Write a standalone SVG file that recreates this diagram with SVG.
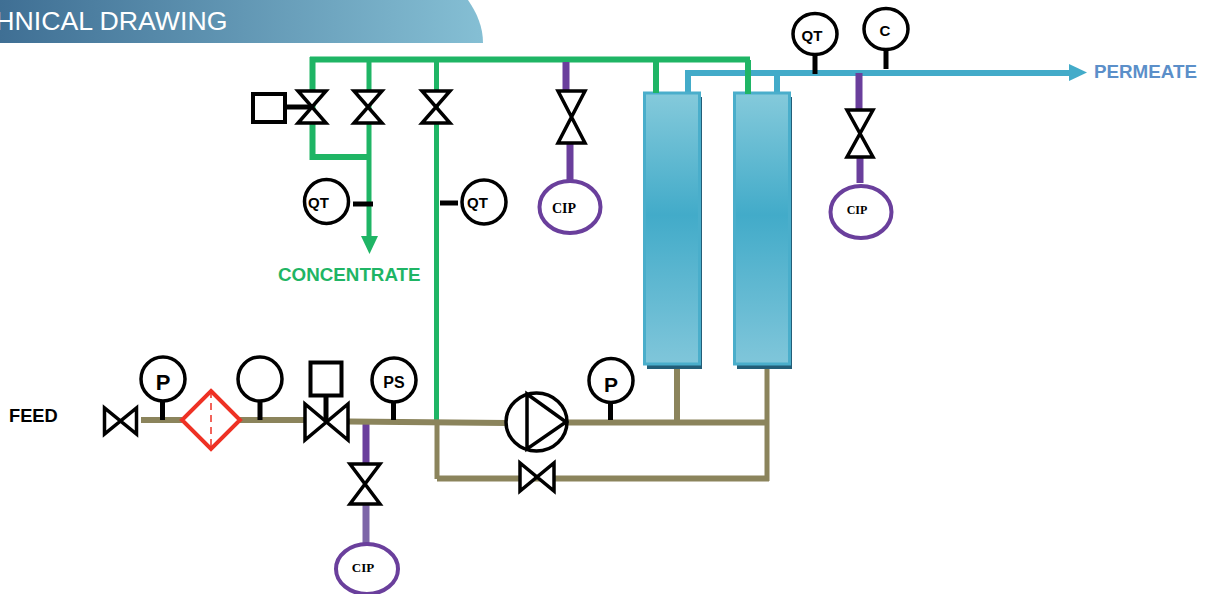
<svg xmlns="http://www.w3.org/2000/svg" width="1205" height="594" viewBox="0 0 1205 594">
<style>
.inst{fill:#fff;stroke:#000;stroke-width:3.500}
.stem{fill:none;stroke:#000;stroke-width:5}
.valve{fill:#fff;stroke:#000;stroke-width:3.500;stroke-linejoin:miter}
.act{fill:#fff;stroke:#000;stroke-width:4}
.cip{fill:#fff;stroke:#6a3f9c;stroke-width:4}
.sans{font-family:"Liberation Sans",Arial,sans-serif;font-weight:700;fill:#000}
.serif{font-family:"Liberation Serif","Times New Roman",serif;font-weight:700;fill:#000;text-anchor:middle}
.green{fill:none;stroke:#1fb565;stroke-width:5}
.blue{fill:none;stroke:#43abc9;stroke-width:6}
.purple{fill:none;stroke:#6a3f9c;stroke-width:7}
.tan{fill:none;stroke:#8b845c;stroke-width:6}
.col{fill:url(#colGrad);stroke:#4aaecb;stroke-width:3}
.shadow{fill:#235e78}
.mid{text-anchor:middle}
</style>
<defs>
<linearGradient id="headGrad" x1="0" y1="0" x2="1" y2="0"><stop offset="0" stop-color="#3f6f94"/><stop offset="1" stop-color="#85bfd4"/></linearGradient>
<linearGradient id="colGrad" x1="0" y1="0" x2="0" y2="1"><stop offset="0" stop-color="#85cadb"/><stop offset="0.45" stop-color="#42abc9"/><stop offset="1" stop-color="#80c6da"/></linearGradient>
</defs>
<g id="header">
<path d="M0 0H468C477 13 483 27 483 43H0Z" fill="url(#headGrad)"/>
<text x="227.500" y="30" text-anchor="end" font-family="Liberation Sans,Arial,sans-serif" font-size="26.700" fill="#fff">HNICAL DRAWING</text>
</g>
<g id="connectors">
<path class="green" style="stroke-width:6" d="M310 59.500H750"/>
<path class="green" style="stroke-width:6" d="M312.500 57V157H369"/>
<path class="green" d="M369 62V238"/>
<path class="green" d="M436.500 62V421"/>
<path class="green" style="stroke-width:6" d="M656 60V93M748 60V94"/>
<polygon points="361,236 378,236 369.500,254" fill="#1fb565"/>
<path class="blue" d="M688 92V73H1072M777 73V92"/>
<polygon points="1069,64 1087,72.500 1069,81" fill="#43abc9"/>
<path class="purple" d="M566 62V90M570 144V182M859 73V109M860 158V183M366 424V464"/>
<path class="purple" style="stroke:#7d66a8" d="M366 505V543"/>
<path class="tan" d="M141 420H182M240 420H305"/>
<path class="tan" d="M349 421.500L507 423"/>
<path class="tan" d="M568 422.500H767M677 367V422"/>
<path class="tan" style="stroke-width:5" d="M437 422V479M767 366V481"/>
<path class="tan" d="M437 478.500H769"/>
</g>
<g id="col1"><rect class="shadow" x="647" y="97" width="55" height="272"/><rect class="col" x="644.500" y="93" width="55" height="271"/></g>
<g id="col2"><rect class="shadow" x="737" y="97" width="55" height="272"/><rect class="col" x="734.500" y="93" width="55" height="271"/></g>
<g id="green-joins"><path class="green" style="stroke-width:6" d="M656 60V93M748 60V94"/></g>
<g id="valve-act-top"><rect class="act" x="253" y="94" width="32" height="28"/><path class="stem" d="M286 107H312"/><path class="valve" d="M298 91H326L298 123H326Z"/></g>
<g id="valve-2"><path class="valve" d="M354 91H382L354 123H382Z"/></g>
<g id="valve-3"><path class="valve" d="M422 91H450L422 123H450Z"/></g>
<g id="qt-left"><circle class="inst" cx="326.500" cy="201.500" r="22"/><path class="stem" d="M353 204H373"/><text class="sans" x="308" y="208" font-size="15">QT</text></g>
<g id="qt-mid"><circle class="inst" cx="484" cy="202" r="22"/><path class="stem" d="M440 203H458"/><text class="sans" x="467" y="208" font-size="15">QT</text></g>
<g id="concentrate"><text class="sans" x="278" y="281" font-size="18.800" style="fill:#1fb565">CONCENTRATE</text></g>
<g id="valve-cip1"><path class="valve" d="M558 91H585L558 143H585Z"/></g>
<g id="cip1"><ellipse class="cip" cx="570" cy="207" rx="30.500" ry="26"/><text class="serif" x="564" y="213" font-size="14">CIP</text></g>
<g id="qt-perm"><path class="stem" d="M815 54V74"/><ellipse class="inst" cx="815" cy="34" rx="22" ry="20.500"/><text class="sans mid" x="812" y="41" font-size="15">QT</text></g>
<g id="c-perm"><path class="stem" d="M886 49V69"/><ellipse class="inst" cx="886" cy="29" rx="22" ry="20.500"/><text class="sans mid" x="885" y="36" font-size="15">C</text></g>
<g id="valve-cip2"><path class="valve" d="M847 110H873L847 157H873Z"/></g>
<g id="cip2"><ellipse class="cip" cx="861" cy="212" rx="30.500" ry="26"/><text class="serif" x="857" y="214" font-size="12">CIP</text></g>
<g id="permeate"><text class="sans" x="1094" y="78" font-size="18.800" style="fill:#5b8fc9">PERMEATE</text></g>
<g id="feed"><text class="sans" x="9" y="422" font-size="18.300">FEED</text></g>
<g id="valve-feed"><path class="valve" d="M104.500 408V434L136.500 408V434Z"/></g>
<g id="p1"><path class="stem" d="M162.500 400V420"/><circle class="inst" cx="163" cy="379" r="22"/><text class="sans mid" x="163" y="390" font-size="22">P</text></g>
<g id="filter"><polygon points="211,391 240,420 211,449 182,420" fill="#fff" stroke="#ee3124" stroke-width="4"/><path d="M211 391V449" fill="none" stroke="#ee3124" stroke-width="1.500" stroke-dasharray="7 5"/></g>
<g id="gauge"><path class="stem" d="M260 400V420"/><circle class="inst" cx="260" cy="379" r="22"/></g>
<g id="valve-big"><path class="valve" d="M305 404V440L348 404V440Z"/><rect class="act" x="310.500" y="362.500" width="31" height="33"/><path class="stem" d="M326 395V421"/></g>
<g id="ps"><path class="stem" d="M393.500 402V420"/><circle class="inst" cx="394" cy="380" r="22"/><text class="sans mid" x="394" y="388" font-size="16">PS</text></g>
<g id="valve-cip3"><path class="valve" d="M350 464H380L350 504H380Z"/></g>
<g id="cip3"><ellipse class="cip" cx="367" cy="569" rx="31" ry="25"/><text class="serif" x="363" y="572" font-size="13">CIP</text></g>
<g id="pump"><ellipse class="inst" cx="536.500" cy="422" rx="30.500" ry="29"/><path class="valve" style="fill:none" d="M527 394L566 422L527 449Z"/></g>
<g id="valve-bypass"><path class="valve" d="M520 463V491L554 463V491Z"/></g>
<g id="p2"><path class="stem" d="M610.500 402V420"/><circle class="inst" cx="611" cy="380.500" r="22"/><text class="sans mid" x="611" y="392" font-size="21">P</text></g>
</svg>
